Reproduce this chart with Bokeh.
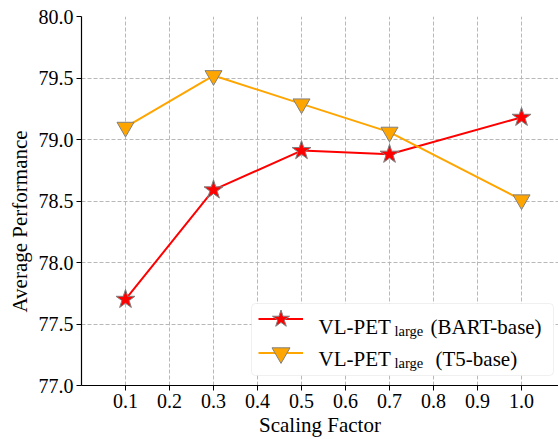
from bokeh.plotting import figure
from bokeh.models import (Range1d, FixedTicker, NumeralTickFormatter, Legend,
                          LegendItem, Label, BoxAnnotation, Title)
from bokeh.embed import file_html
from bokeh.resources import INLINE

# ---- data ----
scaling = [0.1, 0.3, 0.5, 0.7, 1.0]
bart_base = [77.70, 78.59, 78.91, 78.88, 79.18]
t5_base = [79.10, 79.52, 79.29, 79.06, 78.51]
x_ticks = [0.1, 0.2, 0.3, 0.4, 0.5, 0.6, 0.7, 0.8, 0.9, 1.0]
y_ticks = [77.0, 77.5, 78.0, 78.5, 79.0, 79.5, 80.0]
legend_main = ["VL-PET", "VL-PET"]
legend_sub = ["large", "large"]
legend_tail = ["(BART-base)", "(T5-base)"]

FONT = "Liberation Serif"

p = figure(width=558, height=439, output_backend="svg", toolbar_location=None,
           x_range=Range1d(0.0, 1.084), y_range=Range1d(77.0, 80.0),
           min_border_left=81, min_border_right=0, min_border_top=16,
           min_border_bottom=54)
p.outline_line_color = None
p.background_fill_color = "white"
p.border_fill_color = "white"

for ax in (p.xaxis[0], p.yaxis[0]):
    ax.major_label_text_font = FONT
    ax.major_label_text_font_size = "20px"
    ax.major_label_text_color = "black"
    ax.axis_label_text_font = FONT
    ax.axis_label_text_font_size = "21px"
    ax.axis_label_text_font_style = "normal"
    ax.axis_label_text_color = "black"
    ax.axis_line_color = "black"
    ax.axis_line_width = 1.2
    ax.major_tick_line_color = "black"
    ax.major_tick_out = 5
    ax.major_tick_in = 0
    ax.minor_tick_line_color = None
    ax.major_label_standoff = 3
    ax.formatter = NumeralTickFormatter(format="0.0")

p.xaxis[0].ticker = FixedTicker(ticks=x_ticks)
p.yaxis[0].ticker = FixedTicker(ticks=y_ticks)
p.xaxis[0].axis_label = "Scaling Factor"
p.xaxis[0].axis_label_standoff = 2

# y-axis title as a side title, starting 73px above the frame bottom (as in the reference)
p.add_layout(Title(text="Average Performance", align="left", offset=73,
                   standoff=7, text_font=FONT, text_font_size="21px",
                   text_font_style="normal", text_color="black"), "left")

for g in (p.xgrid[0], p.ygrid[0]):
    g.grid_line_color = "#b8b8b8"
    g.grid_line_dash = "4 2"
    g.grid_line_width = 1

# legend frame (drawn under the glyphs and the legend texts)
p.add_layout(BoxAnnotation(left=170, right=472, bottom=10, top=82,
                           left_units="screen", right_units="screen",
                           top_units="screen", bottom_units="screen",
                           fill_color="white", fill_alpha=1.0,
                           line_color="#cccccc", line_width=1,
                           border_radius=4, level="underlay"))

l1 = p.line(scaling, bart_base, line_color="#ff0000", line_width=2)
s1 = p.scatter(scaling, bart_base, marker="star", size=20,
               fill_color="#ff0000", line_color="#808080", line_width=1)
l2 = p.line(scaling, t5_base, line_color="#ffa500", line_width=2)
s2 = p.scatter(scaling, t5_base, marker="inverted_triangle", size=17,
               fill_color="#ffa500", line_color="#808080", line_width=1)

legend_items = [[l1, s1], [l2, s2]]
legend_y = [44, 10]
for i in range(2):
    lg = Legend(items=[LegendItem(label=" ", renderers=legend_items[i])],
                location=(177, legend_y[i]), orientation="vertical",
                glyph_width=45, glyph_height=45, label_height=45,
                label_width=1, label_standoff=0, spacing=0,
                padding=0, margin=0, border_line_color=None,
                background_fill_alpha=0.0)
    p.add_layout(lg, "center")

row_base = [59, 27]
for i in range(2):
    p.add_layout(Label(x=237, y=row_base[i], x_units="screen", y_units="screen",
                       text=legend_main[i], text_font=FONT, text_font_size="21px",
                       text_baseline="alphabetic", text_color="black",
                       level="overlay"))
    p.add_layout(Label(x=313, y=row_base[i] - 4, x_units="screen", y_units="screen",
                       text=legend_sub[i], text_font=FONT, text_font_size="14.5px",
                       text_baseline="alphabetic", text_color="black",
                       level="overlay"))
    p.add_layout(Label(x=349 if i == 0 else 354, y=row_base[i], x_units="screen",
                       y_units="screen", text=legend_tail[i], text_font=FONT,
                       text_font_size="21px", text_baseline="alphabetic",
                       text_color="black", level="overlay"))

open("out.html", "w").write(file_html(p, INLINE))
